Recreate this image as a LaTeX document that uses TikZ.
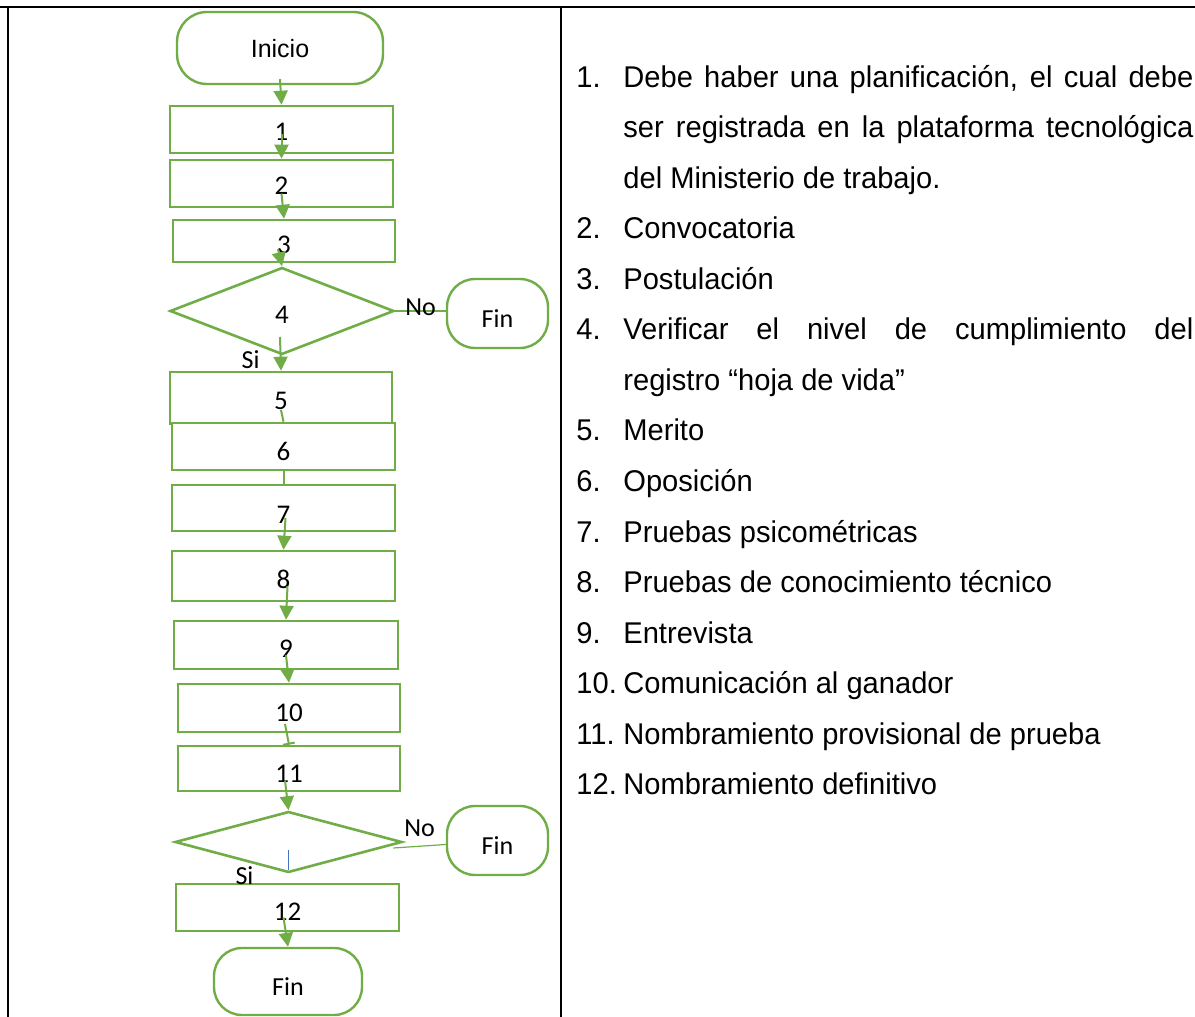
\documentclass[tikz,border=0pt]{standalone}
\usepackage{fontspec}
\setmainfont{Liberation Sans}
\newfontfamily\carlito{Carlito}
\newfontfamily\listfont{Liberation Sans}[FakeStretch=0.97]
\usetikzlibrary{shapes.geometric,arrows.meta}

\definecolor{flowgreen}{RGB}{112,173,71}
\definecolor{stubblue}{RGB}{68,114,196}
% drop a label below the node centre (baseline sits #1 below it)
\newcommand{\lowlbl}[2][6pt]{\raisebox{-#1}[0pt][0pt]{#2}}

\tikzset{
    stepbox/.style = {draw=flowgreen, line width=1.3pt, fill=white, rectangle,
        minimum width=111.5pt, minimum height=23.5pt, inner sep=0pt,
        font=\carlito\fontsize{13.5pt}{15pt}\selectfont},
    endbox/.style = {draw=flowgreen, line width=1.2pt, fill=white, rectangle,
        rounded corners=14pt, minimum width=50.5pt, minimum height=34.5pt, inner sep=0pt,
        font=\carlito\fontsize{13pt}{15pt}\selectfont},
    askbox/.style = {draw=flowgreen, line width=1.3pt, fill=white, diamond,
        inner sep=0pt, font=\carlito\fontsize{13.5pt}{15pt}\selectfont},
    arr/.style = {draw=flowgreen, line width=1pt, -{Triangle[width=7pt,length=7pt]}},
    link/.style = {draw=flowgreen, line width=1pt},
    tag/.style = {font=\carlito\fontsize{13pt}{15pt}\selectfont, inner sep=0pt},
    item/.style = {anchor=base west, inner sep=0pt, font=\listfont\fontsize{15pt}{18pt}\selectfont}
}

\begin{document}
\begin{tikzpicture}[x=0.5pt, y=-0.5pt]
    \useasboundingbox (0,0) rectangle (1195,1017);

    % table frame
    \draw[line width=1.4pt] (0,7) -- (1195,7);
    \draw[line width=1pt] (8,7) -- (8,1017);
    \draw[line width=1pt] (561,7) -- (561,1017);

    % flow chart
    \node[endbox, minimum width=103pt, minimum height=36pt, rounded corners=15pt,
        font=\fontsize{12.5pt}{15pt}\selectfont] (ini) at (280,48) {\lowlbl[4.5pt]{Inicio}};
    \node[stepbox] (b1) at (281.5,129.5) {\lowlbl[5.5pt]{1}};
    \node[stepbox] (b2) at (281.5,183.5) {\lowlbl[5.5pt]{2}};
    \node[stepbox, minimum width=111pt, minimum height=21pt] (b3) at (284,241) {\lowlbl[6.25pt]{3}};
    \node[askbox, minimum width=112pt, minimum height=43.5pt] (d1) at (282,311) {\lowlbl[6.25pt]{4}};
    \node[endbox] (fin1) at (497.5,313.5) {\lowlbl[7pt]{Fin}};
    \node[stepbox, minimum width=111pt, minimum height=26pt] (b5) at (281,398) {\lowlbl[5.75pt]{5}};
    \node[stepbox] (b6) at (283.5,446.5) {\lowlbl[7pt]{6}};
    \node[stepbox, minimum height=23pt] (b7) at (283.5,508) {\lowlbl[7.75pt]{7}};
    \node[stepbox, minimum height=25pt] (b8) at (283.5,576) {\lowlbl[6.25pt]{8}};
    \node[stepbox, minimum width=112pt, minimum height=24pt] (b9) at (286,645) {\lowlbl[6.25pt]{9}};
    \node[stepbox, minimum width=111pt, minimum height=24pt] (b10) at (289,708) {\lowlbl[6.75pt]{10}};
    \node[stepbox, minimum width=111pt, minimum height=22.5pt] (b11) at (289,768.5) {\lowlbl[7pt]{11}};
    \node[askbox, minimum width=113.5pt, minimum height=30.5pt] (d2) at (288.5,842) {};
    \node[endbox] (fin2) at (497.5,840.5) {\lowlbl[7pt]{Fin}};
    \node[stepbox] (b12) at (287.5,907.5) {\lowlbl[6.5pt]{12}};
    \node[endbox, minimum width=74pt, minimum height=33.5pt] (fin3) at (288,981.5) {\lowlbl[7pt]{Fin}};

    % connectors
    \draw[arr] ([yshift=3pt]ini.south) -- (b1.north);
    \draw[arr] ([yshift=-2pt]b1.center) -- (b2.north);
    \draw[arr] ([yshift=-5pt]b2.center) -- (b3.north);
    \draw[arr] ([xshift=-3pt,yshift=-4pt]b3.center) -- (d1.north);
    \draw[arr] ([xshift=-1pt,yshift=-13pt]d1.center) --
        node[tag, pos=0.68, xshift=-15pt] {Si} (b5.north);
    \draw[link] ([yshift=-6pt]b5.center) -- (b6.north);
    \draw[link] (b6.south) -- (b7.north);
    \draw[arr] ([xshift=1pt,yshift=-5pt]b7.center) -- (b8.north);
    \draw[arr] ([xshift=2pt,yshift=-5pt]b8.center) -- (b9.north);
    \draw[arr] ([yshift=-5pt]b9.center) -- (b10.north);
    \draw[link, -{Bar[width=6pt]}] ([xshift=-2pt,yshift=-8pt]b10.center) -- (b11.north);
    \draw[arr] ([xshift=-2pt,yshift=-6pt]b11.center) -- (d2.north);
    \draw[draw=stubblue, line width=0.5pt] ([yshift=-4pt]d2.center) -- ([yshift=-14pt]d2.center)
        node[tag, xshift=-22pt, yshift=-3pt] {Si};
    \draw[arr] ([xshift=-2pt,yshift=-5pt]b12.center) -- (fin3.north);
    \draw[link, line width=0.8pt] (d1.east) --
        node[tag, yshift=2pt] {No} (fin1.west |- d1.east);
    \draw[link, line width=0.6pt] ([xshift=-5pt,yshift=-3pt]d2.east) --
        node[tag, yshift=9pt] {No} ([yshift=-2pt]fin2.west);

    % description list
    \node[item] (n1) at (576,87) {1.};
    \node[item] (t1) at (623,87) {\makebox[285pt][s]{Debe haber una planificación, el cual debe}};
    \node[item] (t1b) at (623,137.6) {\makebox[285pt][s]{ser registrada en la plataforma tecnológica}};
    \node[item] (t1c) at (623,188.1) {del Ministerio de trabajo.};
    \node[item] (n2) at (576,238.7) {2.};
    \node[item] (t2) at (623,238.7) {Convocatoria};
    \node[item] (n3) at (576,289.3) {3.};
    \node[item] (t3) at (623,289.3) {Postulación};
    \node[item] (n4) at (576,339.9) {4.};
    \node[item] (t4) at (623,339.9) {\makebox[285pt][s]{Verificar el nivel de cumplimiento del}};
    \node[item] (t4b) at (623,390.4) {registro “hoja de vida”};
    \foreach \num/\txt [count=\k from 7] in {5/Merito, 6/Oposición, 7/Pruebas psicométricas,
        8/Pruebas de conocimiento técnico, 9/Entrevista, 10/Comunicación al ganador,
        11/Nombramiento provisional de prueba, 12/Nombramiento definitivo} {
        \node[item] (n\num) at (576,87+50.57*\k) {\num.};
        \node[item] (t\num) at (623,87+50.57*\k) {\txt};
    }
\end{tikzpicture}
\end{document}
